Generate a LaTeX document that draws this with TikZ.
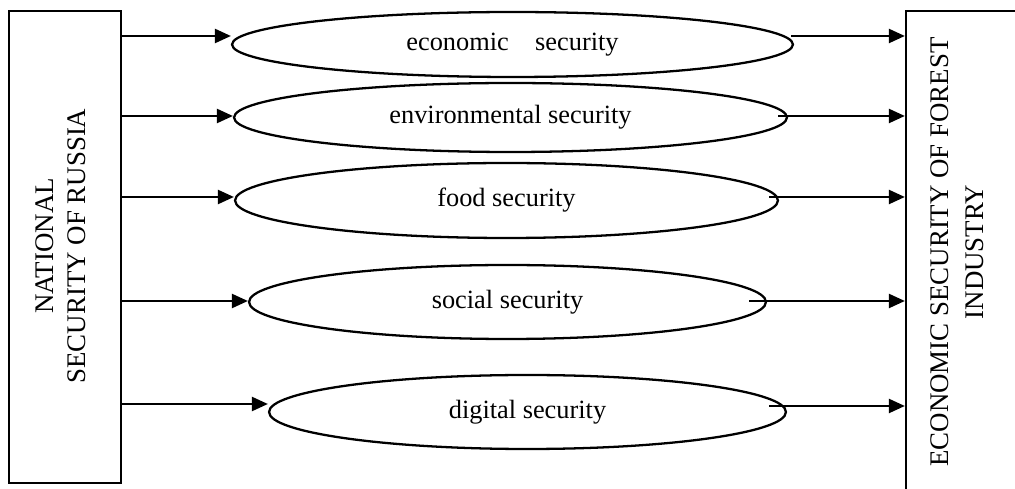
\documentclass[tikz,border=0pt]{standalone}
\usepackage{fontspec}
\setmainfont{Liberation Serif}
\usetikzlibrary{shapes.geometric,arrows.meta,calc}

\begin{document}
\begin{tikzpicture}[
                %one unit = one pixel of the 1015 x 489 frame
                x=0.02cm,y=-0.02cm,
                line width=1.3pt,
                arr/.style={-{Triangle[length=3.2mm,width=2.8mm]}},
                secbox/.style={draw,rectangle,inner sep=0pt},
                sectext/.style={rotate=90,align=center,inner sep=0pt},
                secell/.style={draw,ellipse,inner sep=0pt,text=black}] %

\clip (0,0) rectangle (1015,489);

% left box
                    \node[secbox,minimum width=2.24cm,minimum height=9.44cm] (NatBox) at (65,247) {};
                    \node[sectext,font=\fontsize{15.3}{18.2}\selectfont] (NatText) at (61,246) {NATIONAL\\SECURITY OF RUSSIA};

% right box (runs out of the frame)
                    \node[secbox,minimum width=2.68cm,minimum height=9.98cm] (ForBox) at (973,260.5) {};
                    \node[sectext,font=\fontsize{15.3}{19.9}\selectfont] (ForText) at (957,252) {ECONOMIC SECURITY OF FOREST\\INDUSTRY};

                    % 1
                    \node[secell,minimum width=11.22cm,minimum height=1.30cm,font=\fontsize{15}{18}\selectfont] (Eco) at (512.5,44.5) {economic\hspace{1em}security}; % 1
                    \draw[arr] (NatBox.east |- 0,36) to (Eco.west |- 0,36);
                    \draw[arr] ($(Eco.east |- 0,36)+(-3,0)$) to (ForBox.west |- 0,36);

                    % 2
                    \node[secell,minimum width=11.06cm,minimum height=1.38cm,font=\fontsize{15}{18}\selectfont] (Env) at (510.5,117.5) {environmental security}; % 2
                    \draw[arr] (NatBox.east |- 0,116) to (Env.west |- 0,116);
                    \draw[arr] ($(Env.east |- 0,116)+(-10,0)$) to (ForBox.west |- 0,116);

                    % 3
                    \node[secell,minimum width=10.86cm,minimum height=1.50cm,font=\fontsize{15}{18}\selectfont] (Food) at (506.5,200.5) {food security}; % 3
                    \draw[arr] (NatBox.east |- 0,197) to (Food.west |- 0,197);
                    \draw[arr] ($(Food.east |- 0,197)+(-10,0)$) to (ForBox.west |- 0,197);

                    % 4
                    \node[secell,minimum width=10.34cm,minimum height=1.48cm,font=\fontsize{15}{18}\selectfont] (Soc) at (507.5,302) {social security}; % 4
                    \draw[arr] (NatBox.east |- 0,301) to (Soc.west |- 0,301);
                    \draw[arr] ($(Soc.east |- 0,301)+(-18,0)$) to (ForBox.west |- 0,301);

                    % 5
                    \node[secell,minimum width=10.34cm,minimum height=1.48cm,font=\fontsize{15}{18}\selectfont] (Dig) at (527.5,412) {digital security}; % 5
                    \draw[arr] (NatBox.east |- 0,404) to (Dig.west |- 0,404);
                    \draw[arr] ($(Dig.east |- 0,406)+(-18,0)$) to (ForBox.west |- 0,406);

                    \end{tikzpicture}
\end{document}
